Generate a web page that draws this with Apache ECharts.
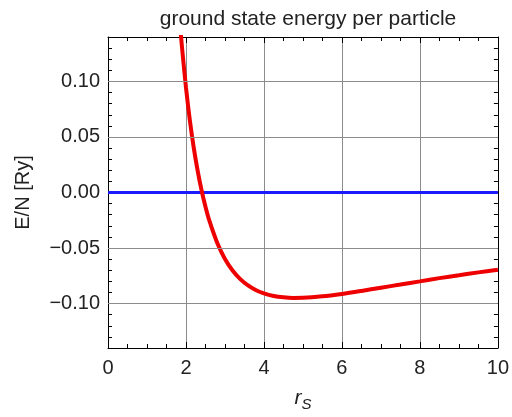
<!DOCTYPE html>
<html>
<head>
<meta charset="utf-8">
<script src="https://cdn.jsdelivr.net/npm/echarts@6/dist/echarts.min.js"></script>
<style>
  html, body { margin: 0; padding: 0; background: #fff; }
  #chart { width: 512px; height: 417px; }
</style>
</head>
<body>
<div id="chart"></div>
<script>
// values (r_s, E/N in Ry)
const rsValues = [1.86, 1.9, 2.0, 2.1, 2.2, 2.3, 2.4, 2.5, 2.6, 2.8, 3.0, 3.2, 3.4, 3.6, 3.8,
  4.0, 4.25, 4.5, 4.75, 5.0, 5.5, 6.0, 6.5, 7.0, 7.5, 8.0, 8.5, 9.0, 9.5, 10.0];
const energyValues = [0.146, 0.130, 0.0945, 0.0649, 0.0402, 0.0195, 0.0020, -0.0128, -0.0254, -0.0452,
  -0.0598, -0.0704, -0.0782, -0.0839, -0.0880, -0.0909, -0.0932, -0.0944, -0.0949, -0.0948,
  -0.0935, -0.0913, -0.0886, -0.0857, -0.0829, -0.0800, -0.0771, -0.0745, -0.0719, -0.0695];
const zeroLine = [[0, 0], [10, 0]];
const yGridValues = [-0.1, -0.05, 0.05, 0.1];

const chart = echarts.init(document.getElementById('chart'), null, { renderer: 'canvas' });

const font = 'Liberation Sans';
const gridLine = { show: true, lineStyle: { color: '#8c8c8c', width: 1 } };
const frameLine = { show: true, onZero: false, lineStyle: { color: '#000', width: 1 } };
const xTick = { show: true, inside: true, length: 6, lineStyle: { color: '#000', width: 1 } };
const yTick = { show: true, inside: true, length: 4, lineStyle: { color: '#000', width: 1 } };
// y ticks run every 0.01, only the 0.05 steps get a label
const fmtY = v => {
  const hund = Math.round(v * 100);
  if (hund % 5 !== 0 || Math.abs(hund) > 10) return '';
  return (hund / 100).toFixed(2).replace('-', '\u2212');
};

chart.setOption({
  animation: false,
  title: {
    text: 'ground state energy per particle',
    left: 303, top: 4, textAlign: 'center',
    textStyle: { fontFamily: font, fontSize: 21, fontWeight: 'normal', color: '#222' }
  },
  grid: { left: 108, right: 13, top: 37, bottom: 67 },
  xAxis: [{
    type: 'value', min: 0, max: 10, interval: 2,
    name: '{i|r}{s|S}', nameLocation: 'middle', nameGap: 37,
    nameTextStyle: {
      rich: {
        i: { fontFamily: font, fontStyle: 'italic', fontSize: 21, color: '#222' },
        s: { fontFamily: font, fontStyle: 'italic', fontSize: 15, color: '#222', padding: [12, 0, 0, 0] }
      }
    },
    axisLine: frameLine, axisTick: xTick,
    minorTick: { show: true, splitNumber: 4, length: 4, lineStyle: { color: '#000' } },
    splitLine: gridLine,
    axisLabel: { fontFamily: font, fontSize: 20, color: '#222', margin: 10 }
  }, {
    type: 'value', position: 'top', min: 0, max: 10, interval: 2,
    axisLine: frameLine, axisTick: xTick,
    minorTick: { show: true, splitNumber: 4, length: 4, lineStyle: { color: '#000' } },
    splitLine: { show: false }, axisLabel: { show: false }
  }],
  yAxis: [{
    type: 'value', min: -0.14, max: 0.14, interval: 0.01,
    name: 'E/N [Ry]', nameLocation: 'middle', nameGap: 75,
    nameTextStyle: { fontFamily: font, fontSize: 20, color: '#222' },
    axisLine: frameLine, axisTick: yTick,
    splitLine: { show: false },
    axisLabel: { fontFamily: font, fontSize: 20, color: '#222', margin: 8, formatter: fmtY }
  }, {
    type: 'value', position: 'right', min: -0.14, max: 0.14, interval: 0.01,
    axisLine: frameLine, axisTick: yTick,
    splitLine: { show: false }, axisLabel: { show: false }
  }],
  series: [{
    type: 'line', data: zeroLine, showSymbol: false, silent: true,
    lineStyle: { color: '#1a1aff', width: 3 }, z: 3,
    markLine: {
      silent: true, symbol: 'none', label: { show: false }, animation: false,
      lineStyle: { type: 'solid', color: '#8c8c8c', width: 1 },
      data: yGridValues.map(v => ({ yAxis: v }))
    }
  }, {
    type: 'line', data: rsValues.map((r, i) => [r, energyValues[i]]),
    showSymbol: false, smooth: 0.3, clip: true,
    lineStyle: { color: '#ee0000', width: 4 }, z: 4
  }]
});
</script>
</body>
</html>
